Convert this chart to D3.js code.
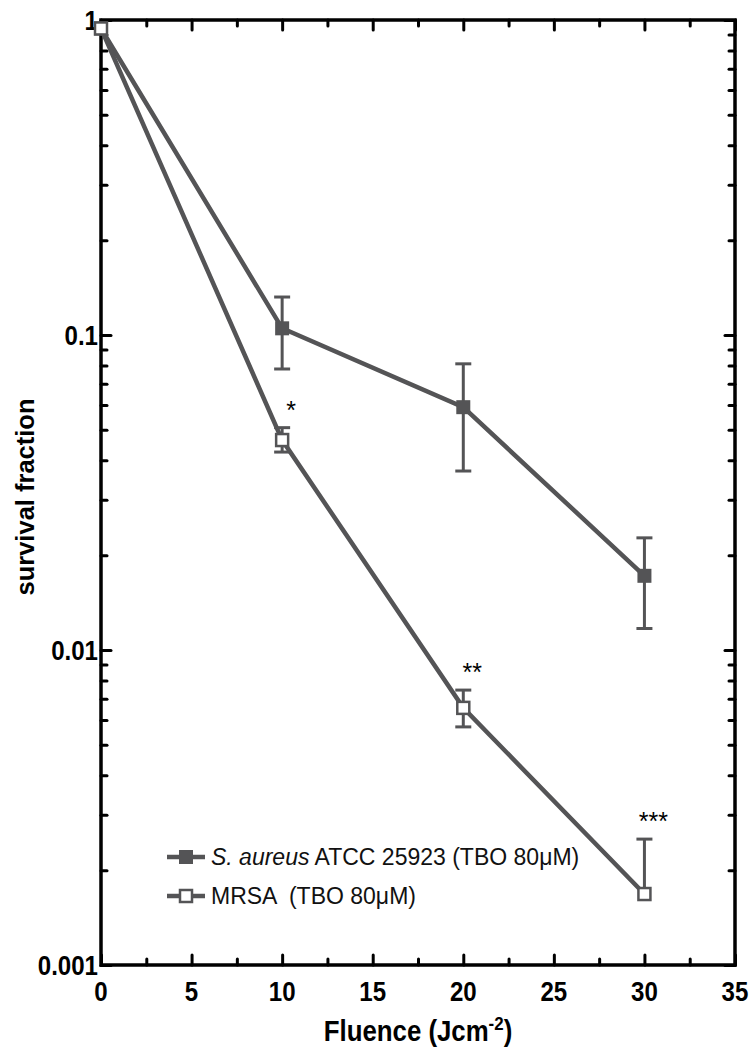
<!DOCTYPE html>
<html>
<head>
<meta charset="utf-8">
<script src="https://cdn.jsdelivr.net/npm/d3@7"></script>
<style>
  body { margin: 0; background: #fff; }
  svg { display: block; }
</style>
</head>
<body>
<div id="chart"></div>
<script>
// data
const fluence = [0, 10, 20, 30];
const saureusMean = [0.94, 0.105, 0.059, 0.0172];
const saureusHi = [null, 0.132, 0.081, 0.0227];
const saureusLo = [null, 0.078, 0.037, 0.0117];
const mrsaMean = [0.94, 0.0464, 0.00655, 0.00168];
const mrsaHi = [null, 0.0508, 0.00746, 0.00251];
const mrsaLo = [null, 0.0425, 0.0057, null];
const sigMarks = ["", "*", "**", "***"];
const xTicks = [0, 5, 10, 15, 20, 25, 30, 35];
const xMinor = [2.5, 7.5, 12.5, 17.5, 22.5, 27.5, 32.5];
const yTicks = [1, 0.1, 0.01, 0.001];
const yLabels = ["1", "0.1", "0.01", "0.001"];
const legendNames = ["S. aureus ATCC 25923 (TBO 80\u03bcM)", "MRSA  (TBO 80\u03bcM)"];

let width = 750, height = 1050;
let margin = { left: 101, right: 15, top: 20, bottom: 85 };
let grey = "#545456";
let sans = "'Liberation Sans', Arial, sans-serif";
let narrow = 0.86; // squeeze to fake Arial Narrow Bold

let svg = d3.select('#chart').append('svg')
  .attr('width', width)
  .attr('height', height);

let x = d3.scaleLinear().domain([0, 35]).range([margin.left, width - margin.right]);
let y = d3.scaleLog().domain([0.001, 1]).range([height - margin.bottom, margin.top]);

// minor y ticks 2..9 per decade
let yMinor = [];
[0.001, 0.01, 0.1].forEach(d => { for (let k = 2; k <= 9; k++) yMinor.push(d * k); });

function styleAxis(g) {
  g.select('.domain').remove();
  g.selectAll('.tick line')
    .attr('stroke', '#000')
    .attr('stroke-width', 3)
    .attr('stroke-linecap', 'round');
}

let yBot = y.range()[0], yTop = y.range()[1];
let xLeft = x.range()[0], xRight = x.range()[1];

// bottom + top axes
svg.append('g').attr('transform', `translate(0,${yBot})`)
  .call(d3.axisBottom(x).tickValues(xTicks).tickSize(-10).tickFormat(''))
  .call(styleAxis);
svg.append('g').attr('transform', `translate(0,${yBot})`)
  .call(d3.axisBottom(x).tickValues(xMinor).tickSize(-6).tickFormat(''))
  .call(styleAxis);
svg.append('g').attr('transform', `translate(0,${yTop})`)
  .call(d3.axisTop(x).tickValues(xTicks).tickSize(-10).tickFormat(''))
  .call(styleAxis);
svg.append('g').attr('transform', `translate(0,${yTop})`)
  .call(d3.axisTop(x).tickValues(xMinor).tickSize(-6).tickFormat(''))
  .call(styleAxis);

// left + right axes
svg.append('g').attr('transform', `translate(${xLeft},0)`)
  .call(d3.axisLeft(y).tickValues(yTicks).tickSize(-10).tickFormat(''))
  .call(styleAxis);
svg.append('g').attr('transform', `translate(${xLeft},0)`)
  .call(d3.axisLeft(y).tickValues(yMinor).tickSize(-6).tickFormat(''))
  .call(styleAxis);
svg.append('g').attr('transform', `translate(${xRight},0)`)
  .call(d3.axisRight(y).tickValues(yTicks).tickSize(-10).tickFormat(''))
  .call(styleAxis);
svg.append('g').attr('transform', `translate(${xRight},0)`)
  .call(d3.axisRight(y).tickValues(yMinor).tickSize(-6).tickFormat(''))
  .call(styleAxis);

// frame
svg.append('rect')
  .attr('x', xLeft).attr('y', yTop)
  .attr('width', xRight - xLeft).attr('height', yBot - yTop)
  .attr('fill', 'none')
  .attr('stroke', '#000')
  .attr('stroke-width', 3.5);

// tick labels
svg.selectAll('.xlab')
  .data(xTicks)
  .enter().append('text')
  .attr('transform', d => `translate(${x(d)},${yBot + 36}) scale(${narrow},1)`)
  .attr('text-anchor', 'middle')
  .style('font-family', sans)
  .style('font-weight', 'bold')
  .style('font-size', '28px')
  .text(d => d);

svg.selectAll('.ylab')
  .data(yTicks)
  .enter().append('text')
  .attr('transform', d => `translate(${xLeft - 3},${y(d) + 10}) scale(${narrow},1)`)
  .attr('text-anchor', 'end')
  .style('font-family', sans)
  .style('font-weight', 'bold')
  .style('font-size', '28px')
  .text((d, i) => yLabels[i]);

// axis titles
let xt = svg.append('text')
  .attr('transform', `translate(418,1041) scale(0.89,1)`)
  .attr('text-anchor', 'middle')
  .style('font-family', sans)
  .style('font-weight', 'bold')
  .style('font-size', '29px');
xt.append('tspan').text('Fluence (Jcm');
xt.append('tspan').attr('dy', -11).style('font-size', '19px').text('-2');
xt.append('tspan').attr('dy', 11).text(')');

svg.append('text')
  .attr('transform', `translate(34,497) rotate(-90)`)
  .attr('text-anchor', 'middle')
  .style('font-family', sans)
  .style('font-weight', 'bold')
  .style('font-size', '25.5px')
  .text('survival fraction');

// series
let series = [
  { mean: saureusMean, hi: saureusHi, lo: saureusLo, filled: true },
  { mean: mrsaMean, hi: mrsaHi, lo: mrsaLo, filled: false }
];

let line = d3.line()
  .x(d => x(d.f))
  .y(d => y(d.v));

series.forEach(s => {
  let pts = fluence.map((f, i) => ({ f: f, v: s.mean[i], hi: s.hi[i], lo: s.lo[i] }));

  svg.append('path')
    .datum(pts)
    .attr('d', line)
    .attr('fill', 'none')
    .attr('stroke', grey)
    .attr('stroke-width', 4.5);

  // error bars
  pts.forEach(p => {
    let cap = 8;
    [p.hi, p.lo].forEach(e => {
      if (e == null) return;
      svg.append('line')
        .attr('x1', x(p.f)).attr('x2', x(p.f))
        .attr('y1', y(p.v)).attr('y2', y(e))
        .attr('stroke', grey).attr('stroke-width', 3);
      svg.append('line')
        .attr('x1', x(p.f) - cap).attr('x2', x(p.f) + cap)
        .attr('y1', y(e)).attr('y2', y(e))
        .attr('stroke', grey).attr('stroke-width', 3);
    });
  });

  // markers
  svg.selectAll(null)
    .data(pts)
    .enter().append('rect')
    .attr('x', d => x(d.f) - (s.filled ? 7 : 6))
    .attr('y', d => y(d.v) - (s.filled ? 7 : 6))
    .attr('width', s.filled ? 14 : 12)
    .attr('height', s.filled ? 14 : 12)
    .attr('fill', s.filled ? grey : '#fff')
    .attr('stroke', grey)
    .attr('stroke-width', s.filled ? 0 : 2.5);
});

// significance stars above MRSA error bars
svg.selectAll('.sig')
  .data(fluence)
  .enter().append('text')
  .attr('x', d => x(d) + 9)
  .attr('y', (d, i) => y(mrsaHi[i] || mrsaMean[i]) - 9)
  .attr('text-anchor', 'middle')
  .style('font-family', sans)
  .style('font-size', '25px')
  .text((d, i) => sigMarks[i]);

// legend
let legend = svg.append('g').attr('transform', 'translate(167,857)');
legendNames.forEach((name, i) => {
  let g = legend.append('g').attr('transform', `translate(0,${i * 39})`);
  g.append('line')
    .attr('x1', 0).attr('x2', 38)
    .attr('stroke', grey).attr('stroke-width', 4.5);
  g.append('rect')
    .attr('x', i === 0 ? 12 : 13).attr('y', i === 0 ? -7 : -6)
    .attr('width', i === 0 ? 14 : 12).attr('height', i === 0 ? 14 : 12)
    .attr('fill', i === 0 ? grey : '#fff')
    .attr('stroke', grey)
    .attr('stroke-width', i === 0 ? 0 : 2.5);
  let t = g.append('text')
    .attr('x', 44).attr('y', 8)
    .style('font-family', sans)
    .style('font-size', '23px')
    .style('white-space', 'pre')
    .style('fill', '#111');
  if (i === 0) {
    t.append('tspan').style('font-style', 'italic').text('S. aureus');
    t.append('tspan').text(' ATCC 25923 (TBO 80\u03bcM)');
  } else {
    t.text(name);
  }
});
</script>
</body>
</html>
